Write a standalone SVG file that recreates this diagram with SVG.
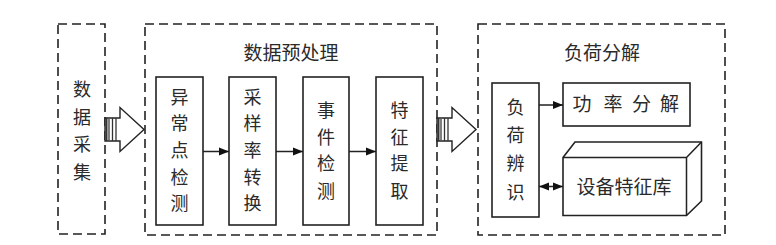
<svg xmlns="http://www.w3.org/2000/svg" width="776" height="245" viewBox="0 0 776 245">
<style>
.dash{fill:none;stroke:#222;stroke-width:1.6;stroke-dasharray:9,5}
.box{fill:#fff;stroke:#222;stroke-width:1.6}
.ln{fill:none;stroke:#222;stroke-width:1.5}
.t{font-family:"Noto Sans CJK SC","Noto Sans",sans-serif;font-size:18px;fill:#2a2a2a;text-anchor:middle}
.tt{font-size:19px}
</style>
<defs>
<marker id="ah" viewBox="0 0 10 10" refX="10" refY="5" markerWidth="10" markerHeight="10" markerUnits="userSpaceOnUse" orient="auto-start-reverse">
<path d="M0,1 L10,5 L0,9 Z" fill="#111"/>
</marker>
<g id="blk">
<path d="M0,-11.5 H15 V-22 L39,0 L15,22 V11.5 H0 Z" fill="#fff" stroke="#222" stroke-width="1.4"/>
<line x1="1.5" y1="-11.5" x2="1.5" y2="11.5" stroke="#333" stroke-width="2"/>
<line x1="4" y1="-11.5" x2="4" y2="11.5" stroke="#555" stroke-width="1.5"/>
<line x1="7.5" y1="-11.5" x2="7.5" y2="11.5" stroke="#333" stroke-width="1.3"/>
<line x1="11" y1="-11.5" x2="11" y2="11.5" stroke="#333" stroke-width="1.3"/>
</g>
</defs>

<g id="acquisition">
<rect class="dash" x="58" y="24" width="47" height="210"/>
<text class="t" x="82" y="96">数</text>
<text class="t" x="82" y="124">据</text>
<text class="t" x="82" y="151">采</text>
<text class="t" x="82" y="179">集</text>
</g>

<g id="preprocess">
<rect class="dash" x="145" y="24" width="292" height="211"/>
<text class="t tt" x="291" y="60">数据预处理</text>
</g>

<g id="anomaly">
<rect class="box" x="156" y="77" width="47" height="148"/>
<text class="t" x="179.5" y="103.5">异</text>
<text class="t" x="179.5" y="130">常</text>
<text class="t" x="179.5" y="157">点</text>
<text class="t" x="179.5" y="183.5">检</text>
<text class="t" x="179.5" y="210">测</text>
</g>

<g id="resample">
<rect class="box" x="229" y="77" width="47" height="148"/>
<text class="t" x="252.5" y="103.5">采</text>
<text class="t" x="252.5" y="130">样</text>
<text class="t" x="252.5" y="157">率</text>
<text class="t" x="252.5" y="183.5">转</text>
<text class="t" x="252.5" y="210">换</text>
</g>

<g id="event">
<rect class="box" x="303" y="77" width="46" height="148"/>
<text class="t" x="326" y="117">事</text>
<text class="t" x="326" y="143.5">件</text>
<text class="t" x="326" y="170">检</text>
<text class="t" x="326" y="198">测</text>
</g>

<g id="feature">
<rect class="box" x="376" y="77" width="47" height="148"/>
<text class="t" x="399.5" y="117">特</text>
<text class="t" x="399.5" y="143.5">征</text>
<text class="t" x="399.5" y="170">提</text>
<text class="t" x="399.5" y="198">取</text>
</g>

<g id="disaggregation">
<rect class="dash" x="478" y="24" width="247" height="211"/>
<text class="t tt" x="602" y="60">负荷分解</text>
</g>

<g id="identify">
<rect class="box" x="492" y="83" width="47" height="134"/>
<text class="t" x="515.5" y="113.5">负</text>
<text class="t" x="515.5" y="142">荷</text>
<text class="t" x="515.5" y="170">辨</text>
<text class="t" x="515.5" y="198.5">识</text>
</g>

<g id="power">
<rect class="box" x="563" y="83" width="127" height="43"/>
<text class="t tt" x="582" y="111">功</text>
<text class="t tt" x="613" y="111">率</text>
<text class="t tt" x="641.5" y="111">分</text>
<text class="t tt" x="669.5" y="111">解</text>
</g>

<g id="library">
<path class="box" d="M563,157.5 L575,142 H701.5 V201 L686.5,215.5 H563 Z"/>
<path class="ln" d="M563,157.5 H686.5 L701.5,142 M686.5,157.5 V215.5"/>
<text class="t tt" x="624" y="193.5">设备特征库</text>
</g>

<g id="connectors">
<use href="#blk" x="105" y="129.5"/>
<use href="#blk" x="437" y="129.5"/>
<line class="ln" x1="203" y1="151.5" x2="229" y2="151.5" marker-end="url(#ah)"/>
<line class="ln" x1="276" y1="151.5" x2="303" y2="151.5" marker-end="url(#ah)"/>
<line class="ln" x1="349" y1="151.5" x2="376" y2="151.5" marker-end="url(#ah)"/>
<line class="ln" x1="539" y1="105" x2="563" y2="105" marker-end="url(#ah)"/>
<line class="ln" x1="539" y1="186.5" x2="563" y2="186.5" marker-start="url(#ah)" marker-end="url(#ah)"/>
</g>
</svg>
